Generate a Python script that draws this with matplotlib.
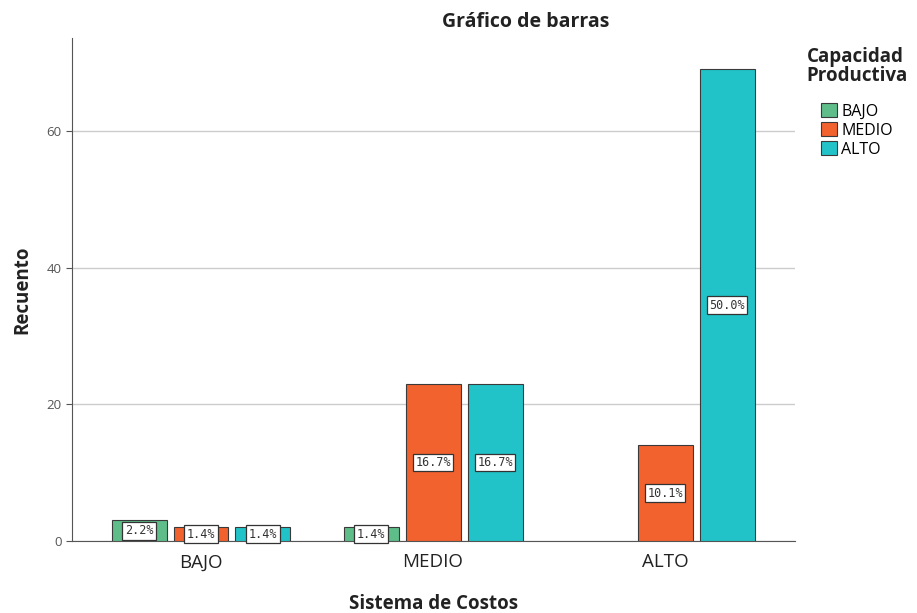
import numpy as np
import matplotlib.pyplot as plt
from matplotlib.patches import Patch

categorias = ["BAJO", "MEDIO", "ALTO"]
niveles = ["BAJO", "MEDIO", "ALTO"]
# recuento por nivel de capacidad productiva, para cada sistema de costos
bajo = [3, 2, 0]
medio = [2, 23, 14]
alto = [2, 23, 69]
porcentajes = [["2.2%", "1.4%", ""], ["1.4%", "16.7%", "10.1%"], ["1.4%", "16.7%", "50.0%"]]
colores = ["#5FBD8A", "#F2622E", "#21C3C8"]

plt.rcParams["font.family"] = ["Open Sans", "DejaVu Sans"]

fig = plt.figure(figsize=(9.17, 6.13), dpi=100)
ax = fig.add_axes([0.0785, 0.1175, 0.7885, 0.8205])

x = np.arange(len(categorias))
ancho = 0.237
paso = 0.267
for i, serie in enumerate([bajo, medio, alto]):
    pos = x + (i - 1) * paso
    for xp, val, txt in zip(pos, serie, porcentajes[i]):
        if val == 0:
            continue
        ax.bar(xp, val, ancho, color=colores[i], edgecolor="#3a3a3a", linewidth=0.8, zorder=3)
        ax.text(xp, val / 2, txt, ha="center", va="center", fontsize=8.5,
                family="DejaVu Sans Mono", color="#333333", zorder=4,
                bbox=dict(boxstyle="square,pad=0.2", fc="white", ec="#333333", lw=0.9))

ax.set_xlim(-0.556, 2.56)
ax.set_ylim(0, 73.6)
ax.set_yticks([0, 20, 40, 60])
ax.set_xticks(x)
ax.set_xticklabels(categorias, fontsize=13.5, color="#222222")
ax.tick_params(axis="y", labelsize=9.5, colors="#555555", length=4)
ax.tick_params(axis="x", length=0, pad=9)
ax.yaxis.grid(True, color="#cccccc", linewidth=1, zorder=0)
ax.spines["top"].set_visible(False)
ax.spines["right"].set_visible(False)
ax.spines["left"].set_color("#555555")
ax.spines["bottom"].set_color("#555555")

ax.set_xlabel("Sistema de Costos", fontsize=13.5, fontweight="bold", labelpad=16, color="#222222")
ax.set_ylabel("Recuento", fontsize=13.5, fontweight="bold", labelpad=10, color="#222222")
fig.text(526 / 917, 1 - 22 / 613, "Gráfico de barras", ha="center", va="center",
         fontsize=14, fontweight="bold", color="#222222")

handles = [Patch(facecolor=c, edgecolor="#3a3a3a", linewidth=0.8) for c in colores]
leg = fig.legend(handles, niveles, title="Capacidad\nProductiva", loc="upper center",
                 bbox_to_anchor=(857 / 917, 1 - 47 / 613), frameon=False, fontsize=11.5,
                 handlelength=1.0, handleheight=1.0, handletextpad=0.25, labelspacing=0.15,
                 borderaxespad=0, borderpad=0)
leg.get_title().set_fontweight("bold")
leg.get_title().set_fontsize(13.5)
leg.get_title().set_linespacing(0.95)
leg.get_title().set_color("#222222")
leg._legend_box.align = "center"
leg._legend_box.sep = 12

fig.savefig("out.png", dpi=100)
